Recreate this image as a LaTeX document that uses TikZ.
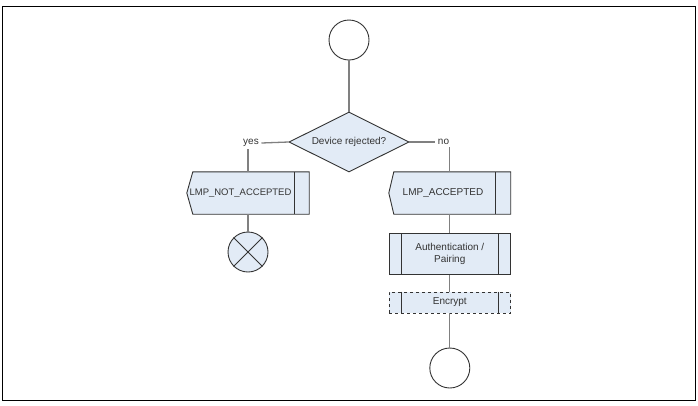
\documentclass[tikz,border=0pt]{standalone}
\usepackage{fontspec}
\setmainfont{Liberation Sans}
\usetikzlibrary{shapes.geometric,backgrounds,calc}
\definecolor{boxfill}{RGB}{226,235,246}
\definecolor{lineg}{RGB}{128,128,128}
\definecolor{txt}{RGB}{51,51,51}
\definecolor{outl}{RGB}{51,51,51}
\begin{document}
\begin{tikzpicture}[x=1pt,y=-1pt,
  every node/.style={font=\fontsize{10}{12.5}\selectfont, text=txt},
  shapeline/.style={draw=outl, line width=0.9pt},
  conn/.style={draw=lineg, line width=1.3pt},
  term/.style={circle, shapeline, minimum size=40pt, inner sep=0pt, fill=white},
  decision/.style={diamond, shapeline, fill=boxfill, minimum width=120pt, minimum height=60pt, aspect=2, inner sep=0pt},
  procbox/.style={rectangle, shapeline, fill=boxfill, minimum width=121.5pt, inner sep=0pt, align=center},
  sigbox/.style={rectangle, minimum height=42pt, inner sep=0pt},
  lbl/.style={inner sep=2.5pt}
]
\useasboundingbox (0,0) rectangle (698,405);
\draw[black, line width=1pt] (2.5,6) rectangle (695,400);

% nodes
\node[term] (start) at (349,40) {};
\node[decision] (dec) at (349,142) {Device rejected?};
\node[lbl] (yes) at (251,143) {yes};
\node[lbl] (no) at (443.5,142) {no};
\node[sigbox, minimum width=107pt, font=\fontsize{9.5}{12}\selectfont] (nacc) at (240.5,193) {LMP\_NOT\_ACCEPTED};
\node[sigbox, minimum width=106pt] (acc) at (443,193) {LMP\_ACCEPTED};
\node[term, fill=boxfill] (stop) at (248,252) {};
\node[procbox, minimum height=41pt] (auth) at (449.8,254) {Authentication /\\Pairing};
\node[procbox, minimum height=21pt, dashed] (enc) at (449.8,302.5) {Encrypt};
\node[term] (fin) at (449.8,368) {};

% decorations of nodes
\draw[shapeline] (stop.north east) -- (stop.south west) (stop.north west) -- (stop.south east);
\foreach \n in {auth,enc}{
  \draw[shapeline] ([xshift=13pt]\n.north west) -- ([xshift=13pt]\n.south west);
  \draw[shapeline] ([xshift=-13pt]\n.north east) -- ([xshift=-13pt]\n.south east);
}
\begin{scope}[on background layer]
  \filldraw[shapeline, fill=boxfill] ($(nacc.north west)+(6,0)$) -- (nacc.west) -- ($(nacc.south west)+(6,0)$) -- ($(nacc.south east)+(15,0)$) -- ($(nacc.north east)+(15,0)$) -- cycle;
  \draw[shapeline] (nacc.north east) -- (nacc.south east);
  \filldraw[shapeline, fill=boxfill] ($(acc.north west)+(4,0)$) -- ($(acc.west)+(-1,0)$) -- ($(acc.south west)+(4,0)$) -- ($(acc.south east)+(14.5,0)$) -- ($(acc.north east)+(14.5,0)$) -- cycle;
  \draw[shapeline] ($(acc.north east)+(-1,0)$) -- ($(acc.south east)+(-1,0)$);
\end{scope}

% connectors
\draw[conn] (start) -- (dec);
\draw[conn] (dec.west) -- (yes.east);
\draw[conn] (dec.east) -- (no.west);
\draw[conn] (yes.south -| stop.north) -- (stop.north |- nacc.north);
\draw[conn] (stop.north |- nacc.south) -- (stop);
\draw[conn] (no.south -| auth.north) -- (auth.north |- acc.north);
\draw[conn] (auth.north |- acc.south) -- (auth);
\draw[conn] (auth) -- (enc);
\draw[conn] (enc) -- (fin);
\end{tikzpicture}
\end{document}
